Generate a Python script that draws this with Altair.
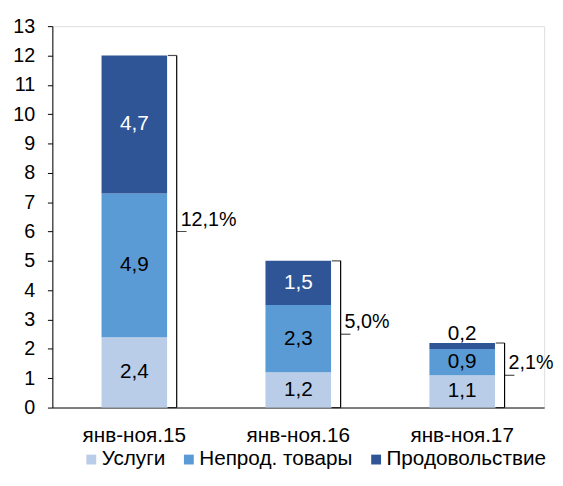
import altair as alt
import pandas as pd

categories = ["янв-ноя.15", "янв-ноя.16", "янв-ноя.17"]
series = ["Услуги", "Непрод. товары", "Продовольствие"]
services = [2.4, 1.2, 1.1]
nonfood = [4.9, 2.3, 0.9]
food = [4.7, 1.5, 0.2]
total_labels = ["12,1%", "5,0%", "2,1%"]
colors = ["#B9CDE9", "#5B9BD5", "#2F5597"]
y_ticks = list(range(0, 14))

FONT = "Liberation Sans, Arial, sans-serif"
FS = 21
values = [services, nonfood, food]


def fmt(v):
    return f"{v:.1f}".replace(".", ",")


rows = []
brace_rows = []
for i, c in enumerate(categories):
    base = 0.0
    for j, s in enumerate(series):
        v = values[j][i]
        rows.append(dict(cat=c, series=s, order=j, v=v, y0=base, y1=base + v,
                         mid=base + v / 2, label=fmt(v), inside=v >= 0.5,
                         white=(j == 2)))
        base += v
    brace_rows.append(dict(cat=c, zero=0.0, top=base, half=base / 2, label=total_labels[i]))

df = pd.DataFrame(rows)
bdf = pd.DataFrame(brace_rows)

xenc = alt.X("cat:N", sort=categories,
             scale=alt.Scale(domain=categories, paddingInner=0.6, paddingOuter=0.3),
             axis=alt.Axis(title=None, labelAngle=0, ticks=False, domainColor="#595959",
                           domainWidth=1.5, labelFontSize=21, labelPadding=17,
                           labelColor="black", labelFont=FONT))
yscale = alt.Scale(domain=[0, 13], nice=False, zero=True)
yaxis = alt.Axis(title=None, values=y_ticks, grid=False, tickSize=5,
                 tickColor="#000000", domainColor="#000000",
                 labelPadding=13, labelFontSize=20, labelColor="black",
                 labelFont=FONT, labelOverlap=False)


def Y(field):
    return alt.Y(field, scale=yscale, axis=yaxis)


bars = alt.Chart(df).mark_bar().encode(
    x=xenc,
    y=Y("y0:Q"),
    y2="y1:Q",
    color=alt.Color("series:N", scale=alt.Scale(domain=series, range=colors),
                    legend=alt.Legend(title=None, orient="none", legendX=29, legendY=429,
                                      direction="horizontal", symbolType="square",
                                      symbolSize=100, symbolStrokeWidth=0,
                                      labelFontSize=21, labelFont=FONT, labelColor="black",
                                      labelLimit=0, columnPadding=13, labelOffset=0,
                                      padding=0)),
)

text_white = alt.Chart(df).transform_filter("datum.inside && datum.white").mark_text(
    fontSize=FS, font=FONT, color="white", baseline="middle").encode(
    x=xenc, y=Y("mid:Q"), text="label:N")

text_black = alt.Chart(df).transform_filter("datum.inside && !datum.white").mark_text(
    fontSize=FS, font=FONT, color="black", baseline="middle").encode(
    x=xenc, y=Y("mid:Q"), text="label:N")

text_out = alt.Chart(df).transform_filter("!datum.inside").mark_text(
    fontSize=FS, font=FONT, color="black", baseline="alphabetic", dy=-3).encode(
    x=xenc, y=Y("y1:Q"), text="label:N")

brace_v = alt.Chart(bdf).mark_rule(xOffset=43, color="#000000", strokeWidth=1.2).encode(
    x=xenc, y=Y("zero:Q"), y2="top:Q")
brace_top = alt.Chart(bdf).mark_tick(xOffset=38.5, size=9, thickness=1.2, color="#000000").encode(
    x=xenc, y=Y("top:Q"))
brace_bot = alt.Chart(bdf).mark_tick(xOffset=38.5, size=9, thickness=1.2, color="#000000").encode(
    x=xenc, y=Y("zero:Q"))
brace_mid = alt.Chart(bdf).mark_tick(xOffset=48, size=10, thickness=1.2, color="#000000").encode(
    x=xenc, y=Y("half:Q"))
brace_lbl = alt.Chart(bdf).mark_text(align="left", baseline="alphabetic", dx=47, dy=-6,
                                     fontSize=20, font=FONT, color="black").encode(
    x=xenc, y=Y("half:Q"), text="label:N")

chart = alt.layer(bars, text_white, text_black, text_out, brace_v, brace_top, brace_bot,
                  brace_mid, brace_lbl).properties(
    width=499, height=387,
    padding={"left": 45, "top": 15, "right": 11, "bottom": 65},
    autosize=alt.AutoSizeParams(type="none"),
).configure_view(stroke=None).configure(font=FONT)

chart.save("out.html", embed_options={"renderer": "svg", "actions": False})
